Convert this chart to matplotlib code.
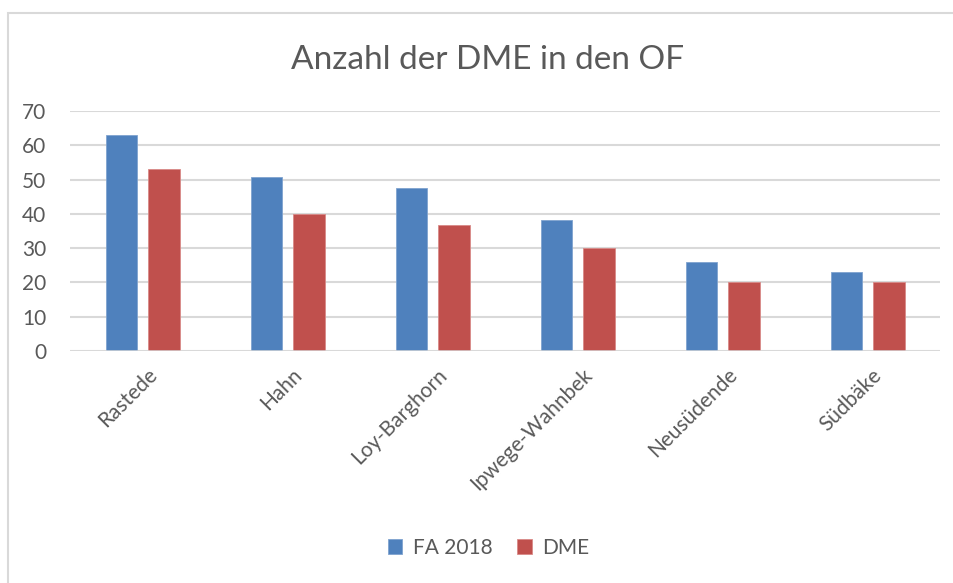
import numpy as np
import matplotlib.pyplot as plt
from matplotlib.patches import Rectangle

# data
orte = ['Rastede', 'Hahn', 'Loy-Barghorn', 'Ipwege-Wahnbek', 'Neusüdende', 'Südbäke']
fa_2018 = [63, 50.7, 47.5, 38.3, 26, 22.9]
dme = [53, 40, 36.8, 29.9, 20, 20]

blau = '#4F81BD'
rot = '#C0504D'
grau_text = '#595959'
grau_linie = '#D9D9D9'

plt.rcParams['font.family'] = ['Lato', 'DejaVu Sans']

fig = plt.figure(figsize=(9.54, 5.83), dpi=100)
ax = fig.add_axes([70 / 954, (583 - 351) / 583, 870 / 954, 240 / 583])

x = np.arange(len(orte))
w = 0.22
ax.bar(x - 0.145, fa_2018, width=w, color=blau, edgecolor='#7FA3CF', linewidth=0.6, label='FA 2018', zorder=3)
ax.bar(x + 0.148, dme, width=w, color=rot, edgecolor='#D98A88', linewidth=0.6, label='DME', zorder=3)

ax.set_xlim(-0.5, len(orte) - 0.5)
ax.set_ylim(0, 70)
ax.set_yticks(range(0, 71, 10))
ax.yaxis.grid(True, color=grau_linie, linewidth=1.5, zorder=0)
ax.set_axisbelow(True)
for s in ax.spines.values():
    s.set_visible(False)
ax.axhline(0, color=grau_linie, linewidth=1.8, zorder=4)

ax.tick_params(axis='both', length=0, labelsize=15, labelcolor=grau_text)
ax.tick_params(axis='y', pad=17)
ax.set_xticks(x + 0.03)
ax.set_xticklabels(orte, rotation=45, ha='right', va='top', rotation_mode='anchor')
ax.tick_params(axis='x', pad=10)

fig.text(0.511, 1 - 60 / 583, 'Anzahl der DME in den OF', ha='center', va='center',
         fontsize=24, color=grau_text)

fig.legend(loc='center', bbox_to_anchor=(0.512, (583 - 548) / 583), ncol=2, frameon=False,
           fontsize=15, labelcolor=grau_text, handlelength=0.7, handleheight=0.7,
           handletextpad=0.5, columnspacing=1.2)

# chart border (only left/top visible in crop)
fig.patches.append(Rectangle((8 / 954, -0.05), 1.2, 1 - 13 / 583 + 0.05,
                             transform=fig.transFigure, fill=False,
                             edgecolor=grau_linie, linewidth=1.5))

fig.savefig('out.png', dpi=100)
